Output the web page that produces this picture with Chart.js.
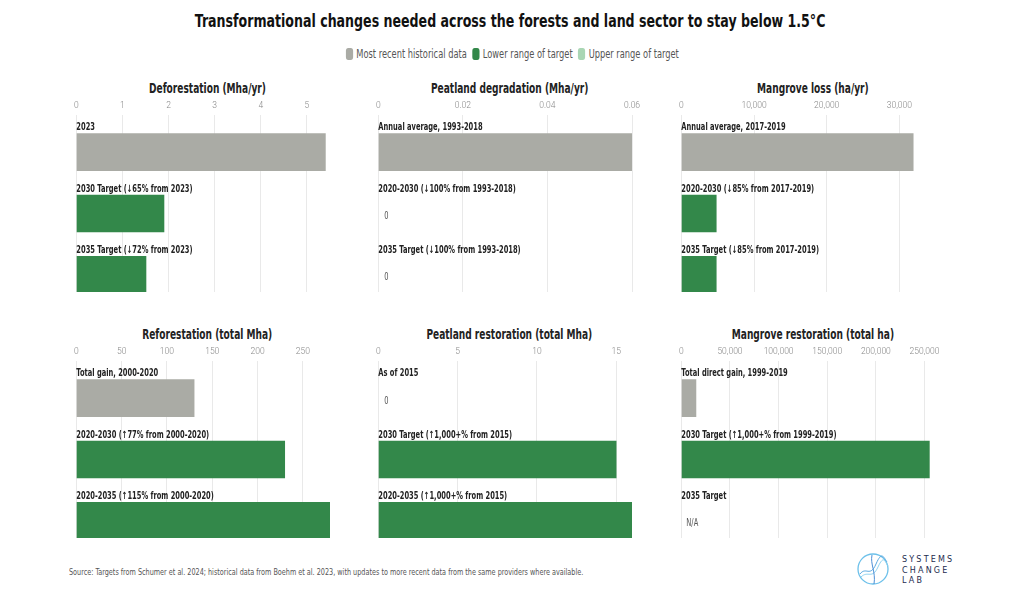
<!DOCTYPE html>
<html>
<head>
<meta charset="utf-8">
<script src="https://cdn.jsdelivr.net/npm/chart.js@4.4.1/dist/chart.umd.min.js"></script>
<style>
  body { margin: 0; background: #fff; font-family: "DejaVu Sans Condensed", Roboto, sans-serif; }
  #page { position: relative; width: 1020px; height: 604px; overflow: hidden; }
  .row { position: absolute; left: 0; width: 1020px; text-align: center; white-space: nowrap; }
  .row > span { display: inline-block; }
  #title { top: 11px; }
  #title > span { font-weight: bold; font-size: 17.5px; color: #111; transform: scaleX(0.8); }
  #legend { top: 43px; }
  #legend > span { font-size: 11.5px; color: #555; transform: scaleX(0.8); }
  #legend i { display: inline-block; width: 9px; height: 12px; border-radius: 3px; vertical-align: -2px; margin: 0 4px 0 7px; }
  .panel { position: absolute; width: 275px; height: 217px; }
  .ptitle { position: absolute; width: 275px; text-align: center; white-space: nowrap; }
  .ptitle > span { display: inline-block; font-weight: bold; font-size: 13.5px; color: #222; transform: scaleX(0.745); }
  #source { position: absolute; left: 69px; top: 568px; font-size: 8px; color: #555; transform-origin: left top; transform: scaleX(0.9); white-space: nowrap; }
  #logo { position: absolute; left: 856px; top: 552px; }
  #logoText { position: absolute; left: 902px; top: 555px; font-family: "DejaVu Sans", sans-serif; font-size: 8px; line-height: 10.5px; letter-spacing: 2.2px; color: #1d2b4f; }
</style>
</head>
<body>
<div id="page">
  <div id="title" class="row"><span>Transformational changes needed across the forests and land sector to stay below 1.5°C</span></div>
  <div id="legend" class="row"><span id="legendInner"></span></div>
  <div class="panel" style="left:70px;top:75px"><canvas id="c1"></canvas></div>
  <div class="panel" style="left:372px;top:75px"><canvas id="c2"></canvas></div>
  <div class="panel" style="left:675px;top:75px"><canvas id="c3"></canvas></div>
  <div class="panel" style="left:70px;top:321px"><canvas id="c4"></canvas></div>
  <div class="panel" style="left:372px;top:321px"><canvas id="c5"></canvas></div>
  <div class="panel" style="left:675px;top:321px"><canvas id="c6"></canvas></div>
  <div id="source">Source: Targets from Schumer et al. 2024; historical data from Boehm et al. 2023, with updates to more recent data from the same providers where available.</div>
  <svg id="logo" width="36" height="36" viewBox="0 0 36 36">
    <circle cx="17" cy="17" r="15" fill="none" stroke="#6cc0ea" stroke-width="1.3"/>
    <path d="M4 22 C10 14, 14 26, 20 12 S28 6, 31 10" fill="none" stroke="#5aa9e0" stroke-width="1"/>
    <path d="M5 25 C12 18, 16 28, 22 15 S29 10, 32 14" fill="none" stroke="#8fd3f0" stroke-width="1"/>
    <path d="M16 3 C14 12, 20 20, 18 32" fill="none" stroke="#4c8fd6" stroke-width="1"/>
  </svg>
  <div id="logoText">SYSTEMS<br>CHANGE<br>LAB</div>
</div>
<script>
const FONT = "'DejaVu Sans Condensed', Roboto, sans-serif";

const legendLabels = ["Most recent historical data", "Lower range of target", "Upper range of target"];
const legendColors = ["#aaaba5", "#33884a", "#a9d6b4"];

// panel titles
const panelTitles = [
  "Deforestation (Mha/yr)",
  "Peatland degradation (Mha/yr)",
  "Mangrove loss (ha/yr)",
  "Reforestation (total Mha)",
  "Peatland restoration (total Mha)",
  "Mangrove restoration (total ha)"
];

// categories
const deforestLabels = ["2023", "2030 Target (↓65% from 2023)", "2035 Target (↓72% from 2023)"];
const peatDegLabels = ["Annual average, 1993-2018", "2020-2030 (↓100% from 1993-2018)", "2035 Target (↓100% from 1993-2018)"];
const mangLossLabels = ["Annual average, 2017-2019", "2020-2030 (↓85% from 2017-2019)", "2035 Target (↓85% from 2017-2019)"];
const reforestLabels = ["Total gain, 2000-2020", "2020-2030 (↑77% from 2000-2020)", "2020-2035 (↑115% from 2000-2020)"];
const peatRestLabels = ["As of 2015", "2030 Target (↑1,000+% from 2015)", "2020-2035 (↑1,000+% from 2015)"];
const mangRestLabels = ["Total direct gain, 1999-2019", "2030 Target (↑1,000+% from 1999-2019)", "2035 Target"];

// values (null = not available)
const deforestValues = [5.4, 1.9, 1.51];
const peatDegValues = [0.06, 0, 0];
const mangLossValues = [31900, 4800, 4800];
const reforestValues = [130, 230, 280];
const peatRestValues = [0, 15, 16];
const mangRestValues = [15000, 255000, null];

// tick labels
const deforestTicks = [0, 1, 2, 3, 4, 5];
const peatDegTicks = [0, 0.02, 0.04, 0.06];
const mangLossTicks = [0, 10000, 20000, 30000];
const reforestTicks = [0, 50, 100, 150, 200, 250];
const peatRestTicks = [0, 5, 10, 15];
const mangRestTicks = [0, 50000, 100000, 150000, 200000, 250000];

const axisMax = [5.5, 0.06, 34900, 280, 16, 260800];

const barColors = ["#aaaba5", "#33884a", "#33884a"];

// legend
const legendEl = document.getElementById("legendInner");
legendLabels.forEach((txt, i) => {
  legendEl.insertAdjacentHTML("beforeend",
    '<i style="background:' + legendColors[i] + '"></i>' + txt);
});

function formatTick(value) {
  if (value >= 1000) return value.toLocaleString("en-US");
  return String(Math.round(value * 1000) / 1000);
}

// category label above each bar, and 0 / N/A where there is no bar
const barLabelPlugin = {
  id: "barLabels",
  afterDatasetsDraw(chart) {
    const { ctx, chartArea } = chart;
    const labels = chart.data.labels;
    const values = chart.data.datasets[0].rawValues;
    const sx = 0.745;
    ctx.save();
    ctx.scale(sx, 1);
    labels.forEach((lab, i) => {
      const y = chart.scales.y.getPixelForValue(i);
      ctx.font = "bold 10px " + FONT;
      ctx.fillStyle = "#222";
      ctx.textAlign = "left";
      ctx.textBaseline = "alphabetic";
      ctx.fillText(lab, chartArea.left / sx, y - 22);
      const v = values[i];
      if (v === 0 || v === null) {
        ctx.font = "10px " + FONT;
        ctx.fillStyle = "#555";
        ctx.textBaseline = "middle";
        ctx.fillText(v === null ? "N/A" : "0", (chartArea.left + (v === null ? 5 : 6)) / sx, y + 3);
      }
    });
    ctx.restore();
  }
};

function makePanel(id, idx, labels, values, ticks) {
  const canvas = document.getElementById(id);
  const holder = canvas.parentElement;
  holder.insertAdjacentHTML("beforebegin",
    '<div class="ptitle" style="left:' + holder.style.left + ';top:' + (parseInt(holder.style.top) + 3) + 'px"><span>' + panelTitles[idx] + '</span></div>');
  return new Chart(canvas, {
    type: "bar",
    data: {
      labels: labels,
      datasets: [{
        // a zero value has no bar, so it is not drawn at all
        data: values.map((v, i) => ({ x: v === 0 ? null : v, y: i })),
        rawValues: values,
        backgroundColor: barColors,
        barThickness: 37,
      }],
    },
    options: {
      indexAxis: "y",
      responsive: true,
      maintainAspectRatio: false,
      animation: false,
      layout: { padding: { left: 6, right: 15, top: 22, bottom: 0 } },
      plugins: {
        legend: { display: false },
        tooltip: { enabled: false },
      },
      scales: {
        x: {
          position: "top",
          min: 0,
          max: axisMax[idx],
          bounds: "data",
          border: { display: false },
          grid: { color: "#e9e9e9", drawTicks: false },
          afterBuildTicks: (scale) => {
            scale.ticks = ticks.map((v) => ({ value: v }));
          },
          ticks: {
            color: "#888",
            padding: 4,
            font: { family: "Roboto", size: 8.5, weight: "300" },
            callback: (v) => formatTick(v),
          },
        },
        y: {
          type: "linear",
          reverse: true,
          bounds: "data",
          offset: false,
          min: -0.603,
          max: 2.28,
          display: false,
        },
      },
    },
    plugins: [barLabelPlugin],
  });
}

makePanel("c1", 0, deforestLabels, deforestValues, deforestTicks);
makePanel("c2", 1, peatDegLabels, peatDegValues, peatDegTicks);
makePanel("c3", 2, mangLossLabels, mangLossValues, mangLossTicks);
makePanel("c4", 3, reforestLabels, reforestValues, reforestTicks);
makePanel("c5", 4, peatRestLabels, peatRestValues, peatRestTicks);
makePanel("c6", 5, mangRestLabels, mangRestValues, mangRestTicks);
</script>
</body>
</html>
